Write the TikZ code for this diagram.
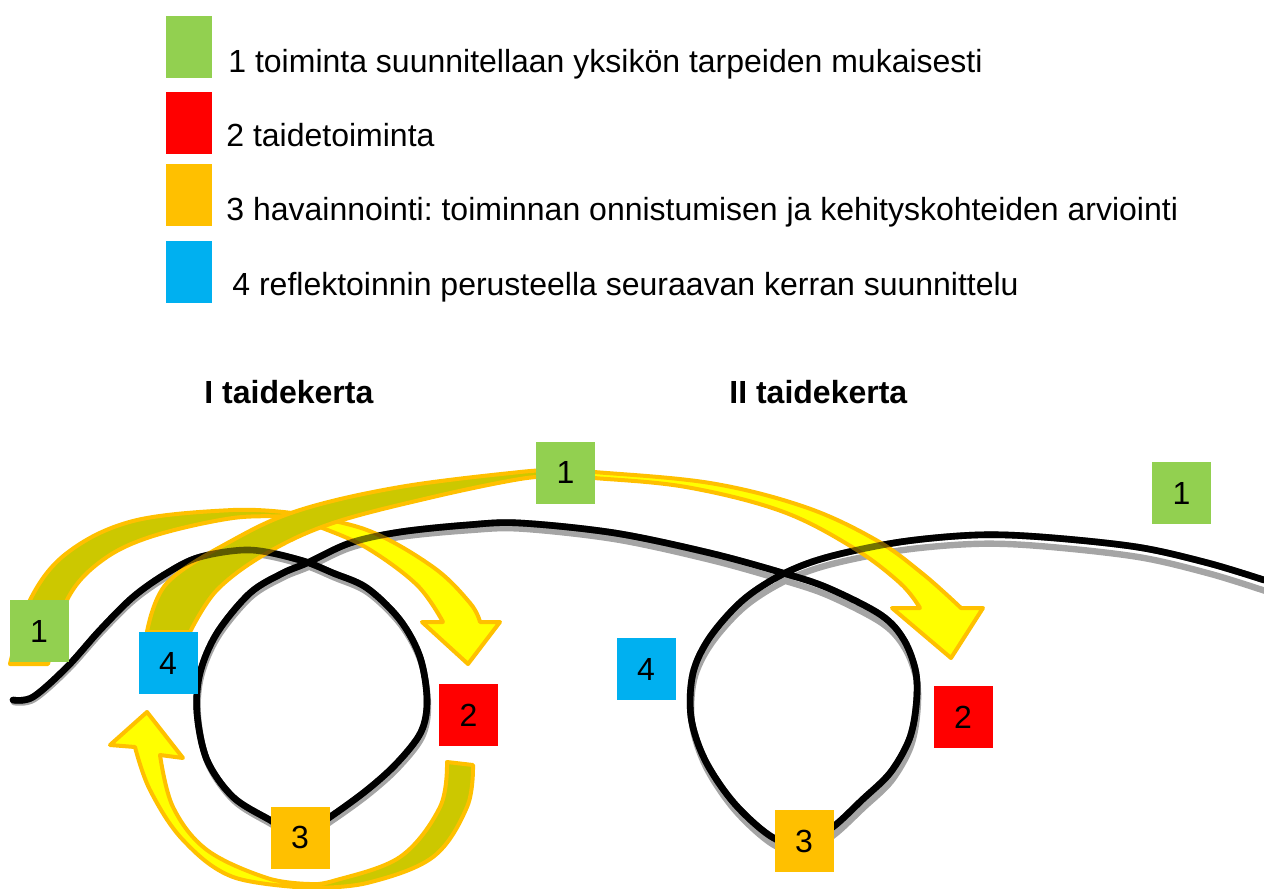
\documentclass[tikz,border=0pt]{standalone}
\usepackage{fontspec}
\setmainfont{Liberation Sans}
\frenchspacing
\definecolor{grn}{RGB}{146,208,80}
\definecolor{rd}{RGB}{255,0,0}
\definecolor{org}{RGB}{255,192,0}
\definecolor{blu}{RGB}{0,176,240}
\definecolor{yel}{RGB}{255,255,0}
\definecolor{oliv}{RGB}{204,200,0}
\definecolor{shad}{RGB}{165,165,165}
\begin{document}
\begin{tikzpicture}[x=0.5pt,y=-0.5pt,
  num/.style={minimum width=29.5pt,minimum height=31pt,inner sep=0pt,font=\fontsize{16}{19}\selectfont},
  legbox/.style={minimum width=23pt,minimum height=31pt,inner sep=0pt},
  legtxt/.style={anchor=base west,inner sep=0pt,font=\fontsize{16}{19}\selectfont},
  headtxt/.style={anchor=base west,inner sep=0pt,font=\fontsize{16}{19}\selectfont\bfseries},
  backpart/.style={fill=oliv,draw=org,line width=2pt,line join=round},
  frontpart/.style={fill=yel,draw=org,line width=2pt,line join=round},
  mainpath/.style={insert path={plot[smooth,tension=0.55] coordinates{
    (13,700) (33,697) (67,667) (100,630) (133,597) (167,573) (200,557) (250,550)
    (300,560) (333,573) (367,588) (400,620) (420,657) (427,700) (421,732) (397,763)
    (367,790) (330,817) (300,836) (270,820) (233,797) (207,760) (197,713) (200,673)
    (217,633) (250,593) (283,573) (307,563) (350,543) (400,532) (467,525) (520,523)
    (615,533) (710,553) (783,573) (828,588) (881,615) (904,640) (916,673) (916,707)
    (909,740) (890,773) (862,800) (833,827) (804,845) (772,837) (734,803) (705,760)
    (691,717) (693,673) (710,637) (743,600) (783,574) (828,557) (900,542) (976,535)
    (1042,537) (1137,547) (1208,563) (1264,580)}}}
]
\useasboundingbox (0,0) rectangle (1264,889);

% legend
\node[legbox,fill=grn] (lg1) at (189,47) {};
\node[legbox,fill=rd]  (lg2) at (189,123) {};
\node[legbox,fill=org] (lg3) at (189,195) {};
\node[legbox,fill=blu] (lg4) at (189,272) {};
\node[legtxt] (lt1) at (228,72) {1 toiminta suunnitellaan yksikön tarpeiden mukaisesti};
\node[legtxt] (lt2) at (226,146) {2 taidetoiminta};
\node[legtxt] (lt3) at (226,220) {3 havainnointi: toiminnan onnistumisen ja kehityskohteiden arviointi};
\node[legtxt] (lt4) at (232,295) {4 reflektoinnin perusteella seuraavan kerran suunnittelu};

% headings
\node[headtxt] (h1) at (204,403) {I taidekerta};
\node[headtxt] (h2) at (729,403) {II taidekerta};

% shadow of the main line
\begin{scope}[shift={(1,2)},cm={1,-0.007,0,1,(0,0)}]
\path[draw=shad,line width=3.2pt,line cap=round,mainpath];
\end{scope}
% main line
\path[draw=black,line width=3.3pt,line cap=round,line join=round,mainpath];

% arrow A (1 -> 2, first round)
\filldraw[backpart] plot[smooth,tension=0.6] coordinates{(10,664) (30,600) (67,553) (133,521) (233,510) (292,513)}
  -- plot[smooth,tension=0.6] coordinates{(292,517) (233,518) (150,537) (100,562) (67,600) (48,664)} -- cycle;
\filldraw[frontpart] plot[smooth,tension=0.6] coordinates{(292,513) (367,530) (433,567) (470,603) (480,622)}
  -- (500,622) -- (468,664) -- (422,622) -- (443,622)
  -- plot[smooth,tension=0.6] coordinates{(443,622) (417,585) (367,548) (320,527) (292,517)} -- cycle;

% arrow B (4 -> II 2)
\filldraw[backpart] plot[smooth,tension=0.6] coordinates{(147,632) (167,583) (233,540) (300,510) (400,487) (520,472) (560,470)}
  -- plot[smooth,tension=0.6] coordinates{(560,476) (520,479) (433,497) (333,523) (267,553) (217,590) (190,632)} -- cycle;
\filldraw[frontpart] plot[smooth,tension=0.6] coordinates{(560,470) (594,472) (710,483) (805,507) (876,540) (923,574) (961,608)}
  -- (983,608) -- (951,658) -- (892,608) -- (920,608)
  -- plot[smooth,tension=0.6] coordinates{(920,608) (900,583) (852,547) (781,511) (686,487) (594,478) (560,476)} -- cycle;

% arrow C (3 -> 4)
\filldraw[backpart] plot[smooth,tension=0.6] coordinates{(473,765) (467,807) (433,857) (367,883) (310,888)}
  -- plot[smooth,tension=0.6] coordinates{(310,884) (333,881) (400,857) (440,807) (447,762)} -- cycle;
\filldraw[frontpart] plot[smooth,tension=0.6] coordinates{(310,888) (233,877) (183,840) (150,790) (135,747)}
  -- (110,745) -- (147,712) -- (183,758) -- (160,755)
  -- plot[smooth,tension=0.6] coordinates{(160,755) (173,807) (207,850) (267,878) (310,884)} -- cycle;

% line seen through the translucent arrows
\path[draw=black,draw opacity=0.55,line width=3.3pt,line cap=round,line join=round,mainpath];

% numbered squares
\node[num,fill=grn] (s1a) at (39,631) {1};
\node[num,fill=blu] (s4a) at (168,663) {4};
\node[num,fill=rd]  (s2a) at (468.5,715) {2};
\node[num,fill=org] (s3a) at (300,837.5) {3};
\node[num,fill=grn] (s1b) at (565.5,472.5) {1};
\node[num,fill=grn] (s1c) at (1181.5,493) {1};
\node[num,fill=blu] (s4b) at (646,669) {4};
\node[num,fill=rd]  (s2b) at (963,717) {2};
\node[num,fill=org] (s3b) at (804,841) {3};
\end{tikzpicture}
\end{document}
